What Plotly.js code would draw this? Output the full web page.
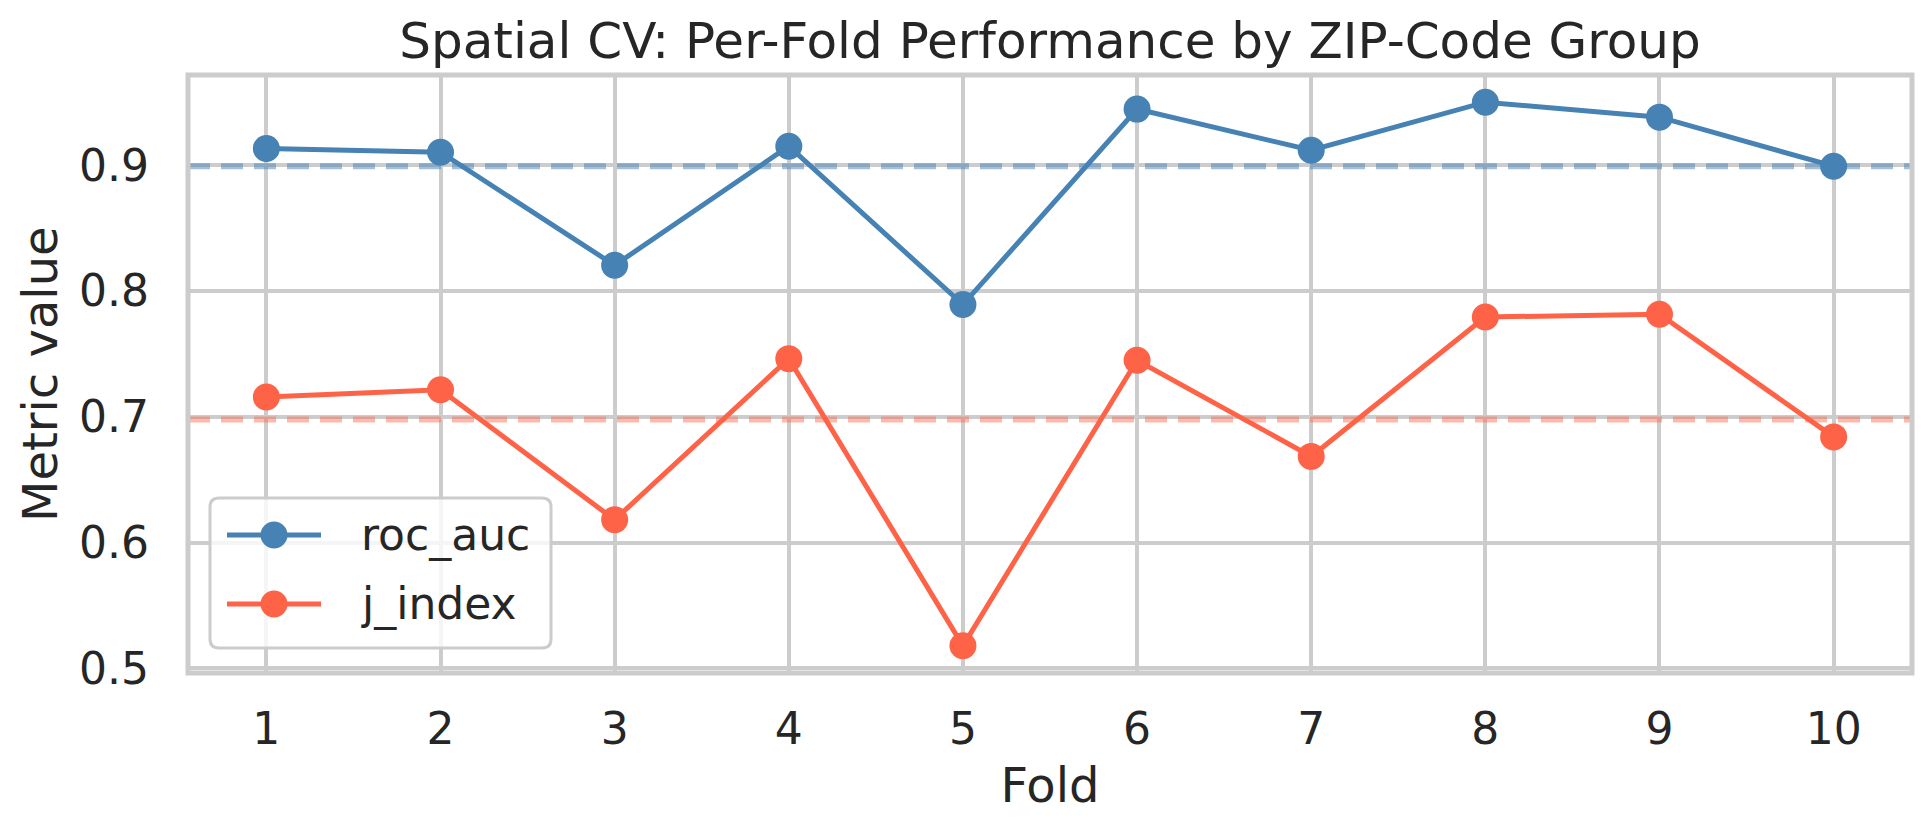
<!DOCTYPE html>
<html>
<head>
<meta charset="utf-8">
<script src="https://cdn.plot.ly/plotly-3.0.1.min.js"></script>
<style>
  html, body { margin: 0; padding: 0; background: #ffffff; }
  #chart { width: 1931px; height: 831px; }
</style>
</head>
<body>
<div id="chart"></div>
<script>
// ---- Data ----
const folds = [1, 2, 3, 4, 5, 6, 7, 8, 9, 10];
const foldLabels = ["1", "2", "3", "4", "5", "6", "7", "8", "9", "10"];
const rocAuc = [0.9133, 0.9103, 0.8204, 0.9151, 0.7892, 0.9446, 0.9119, 0.9501, 0.9382, 0.8992];
const jIndex = [0.7157, 0.7215, 0.6181, 0.7462, 0.5179, 0.7449, 0.6685, 0.7793, 0.7815, 0.6840];
const seriesNames = ["roc_auc", "j_index"];
const yTickVals = [0.5, 0.6, 0.7, 0.8, 0.9];
const yTickText = ["0.5", "0.6", "0.7", "0.8", "0.9"];
const yTitle = "Metric value";

const BLUE = "#4682B4";
const RED = "#FF6347";
const BLUE_MEAN = "rgba(70,130,180,0.5)";
const RED_MEAN = "rgba(255,99,71,0.45)";
const TXT = "#262626";
const GRID = "#cccccc";
const FONT = "DejaVu Sans, Liberation Sans, sans-serif";

const mean = a => a.reduce((s, v) => s + v, 0) / a.length;
const rocMean = mean(rocAuc);
const jMean = mean(jIndex);

// matplotlib-style 5% autoscale margins
const allY = rocAuc.concat(jIndex);
const yMin = Math.min(...allY), yMax = Math.max(...allY);
const ySpan = yMax - yMin;
const yRange = [yMin - 0.05 * ySpan, yMax + 0.05 * ySpan];
const xSpan = folds[folds.length - 1] - folds[0];
const xRange = [folds[0] - 0.05 * xSpan, folds[folds.length - 1] + 0.05 * xSpan];

// plot-area geometry (px)
const W = 1931, H = 831;
const M = { l: 188, r: 19, t: 75, b: 158 };
const PW = W - M.l - M.r, PH = H - M.t - M.b;
const px2x = px => (px - M.l) / PW;
const px2y = py => (M.t + PH - py) / PH;

const traces = [
  { // mean reference lines (drawn first, under the data)
    x: xRange, y: [rocMean, rocMean], type: "scatter", mode: "lines",
    line: { color: BLUE_MEAN, width: 6, dash: "22px,11px" },
    showlegend: false, hoverinfo: "skip"
  },
  {
    x: xRange, y: [jMean, jMean], type: "scatter", mode: "lines",
    line: { color: RED_MEAN, width: 6, dash: "22px,11px" },
    showlegend: false, hoverinfo: "skip"
  },
  {
    x: folds, y: rocAuc, name: seriesNames[0], type: "scatter", mode: "lines+markers",
    line: { color: BLUE, width: 5 },
    marker: { color: BLUE, size: 27 },
    hoverinfo: "x+y"
  },
  {
    x: folds, y: jIndex, name: seriesNames[1], type: "scatter", mode: "lines+markers",
    line: { color: RED, width: 5 },
    marker: { color: RED, size: 27 },
    hoverinfo: "x+y"
  }
];

// ---- legend drawn with shapes/annotations (matplotlib look) ----
const legBox = { x0: 210, x1: 551, y0: 498, y1: 648, r: 9 };
const legRows = [
  { name: seriesNames[0], color: BLUE, y: 535 },
  { name: seriesNames[1], color: RED, y: 604 }
];
const lx0 = px2x(legBox.x0), lx1 = px2x(legBox.x1);
const ly0 = px2y(legBox.y1), ly1 = px2y(legBox.y0); // bottom, top in paper
const rx = legBox.r / PW, ry = legBox.r / PH;
const boxPath =
  `M ${lx0 + rx},${ly1} L ${lx1 - rx},${ly1} Q ${lx1},${ly1} ${lx1},${ly1 - ry} ` +
  `L ${lx1},${ly0 + ry} Q ${lx1},${ly0} ${lx1 - rx},${ly0} ` +
  `L ${lx0 + rx},${ly0} Q ${lx0},${ly0} ${lx0},${ly0 + ry} ` +
  `L ${lx0},${ly1 - ry} Q ${lx0},${ly1} ${lx0 + rx},${ly1} Z`;

const shapes = [
  { type: "rect", xref: "paper", yref: "paper", x0: 0, x1: 1, y0: 0, y1: 1,
    line: { color: GRID, width: 5 }, fillcolor: "rgba(0,0,0,0)", layer: "above" },
  { type: "path", xref: "paper", yref: "paper", path: boxPath,
    fillcolor: "rgba(255,255,255,0.8)", line: { color: "#cccccc", width: 3 }, layer: "above" }
];
const annotations = [
  { // y-axis title
    xref: "paper", yref: "paper", x: px2x(40), y: 0.5,
    xanchor: "center", yanchor: "middle", showarrow: false, textangle: -90,
    text: yTitle, font: { family: FONT, size: 48, color: TXT }
  }
];
legRows.forEach(r => {
  shapes.push({ type: "line", xref: "paper", yref: "paper",
    x0: px2x(227), x1: px2x(321), y0: px2y(r.y), y1: px2y(r.y),
    line: { color: r.color, width: 5 }, layer: "above" });
  shapes.push({ type: "circle", xref: "paper", yref: "paper",
    xsizemode: "pixel", ysizemode: "pixel",
    xanchor: px2x(274), yanchor: px2y(r.y),
    x0: -13.5, x1: 13.5, y0: -13.5, y1: 13.5,
    fillcolor: r.color, line: { color: r.color, width: 0 }, layer: "above" });
  annotations.push({ xref: "paper", yref: "paper", x: px2x(359), y: px2y(r.y),
    xanchor: "left", yanchor: "middle", showarrow: false, text: r.name,
    font: { family: FONT, size: 44, color: TXT } });
});

const layout = {
  width: W, height: H,
  paper_bgcolor: "#ffffff", plot_bgcolor: "#ffffff",
  margin: { l: M.l, r: M.r, t: M.t, b: M.b, pad: 0 },
  font: { family: FONT, color: TXT },
  title: {
    text: "Spatial CV: Per-Fold Performance by ZIP-Code Group",
    font: { family: FONT, size: 50, color: TXT },
    x: 0.5, xref: "paper", xanchor: "center",
    y: 1 - 40 / 831, yref: "container", yanchor: "middle"
  },
  xaxis: {
    range: xRange, tickmode: "array", tickvals: folds, ticktext: foldLabels,
    showgrid: true, gridcolor: GRID, gridwidth: 4, zeroline: false, showline: false,
    ticks: "", tickfont: { family: FONT, size: 44, color: TXT },
    ticklabelstandoff: 26,
    title: { text: "Fold", font: { family: FONT, size: 48, color: TXT }, standoff: 15 },
    automargin: false, fixedrange: true
  },
  yaxis: {
    range: yRange, tickmode: "array", tickvals: yTickVals, ticktext: yTickText,
    showgrid: true, gridcolor: GRID, gridwidth: 4, zeroline: false, showline: false,
    ticks: "", tickfont: { family: FONT, size: 44, color: TXT },
    ticklabelstandoff: 38,
    automargin: false, fixedrange: true
  },
  shapes: shapes,
  annotations: annotations,
  showlegend: false
};

Plotly.newPlot("chart", traces, layout, { displayModeBar: false, staticPlot: true });
</script>
</body>
</html>
